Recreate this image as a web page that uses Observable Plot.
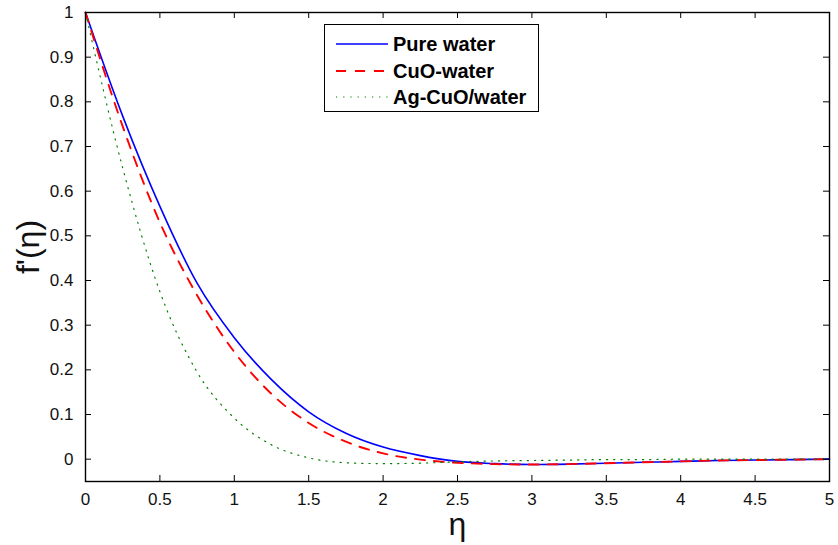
<!DOCTYPE html>
<html>
<head>
<meta charset="utf-8">
<script src="https://cdn.jsdelivr.net/npm/d3@7"></script>
<script src="https://cdn.jsdelivr.net/npm/@observablehq/plot@0.6"></script>
<style>
  html, body { margin: 0; padding: 0; background: #fff; }
  #wrap { position: relative; width: 838px; height: 545px; }
  #legend {
    position: absolute; left: 324px; top: 24px; width: 213px; height: 86px;
    background: #fff; border: 1px solid #000;
    font-family: "Liberation Sans", Arial, sans-serif; font-weight: bold; font-size: 20px; color: #000;
  }
  .row { position: absolute; left: 0; height: 26px; width: 100%; }
  .row svg { position: absolute; left: 10px; top: 0; }
  .row span { position: absolute; left: 68px; top: 1px; line-height: 24px; white-space: nowrap; }
</style>
</head>
<body>
<div id="wrap"></div>
<script>
// ---- data ----
const eta = [0, 0.25, 0.5, 0.75, 1, 1.25, 1.5, 1.75, 2, 2.25, 2.5, 2.75, 3, 3.25, 3.5, 3.75, 4, 4.25, 4.5, 4.75, 5];
const pureWater = [1, 0.768, 0.566, 0.394, 0.272, 0.178, 0.106, 0.058, 0.027, 0.008, -0.005, -0.010, -0.012, -0.011, -0.009, -0.007, -0.005, -0.003, -0.002, -0.001, 0];
const cuoWater = [1, 0.745, 0.530, 0.367, 0.240, 0.146, 0.081, 0.039, 0.013, -0.001, -0.008, -0.011, -0.012, -0.011, -0.009, -0.007, -0.005, -0.003, -0.002, -0.001, 0];
const agCuoWater = [1, 0.652, 0.375, 0.195, 0.092, 0.032, 0.003, -0.008, -0.010, -0.009, -0.006, -0.004, -0.003, -0.002, -0.001, -0.001, 0, 0, 0, 0, 0];
const seriesNames = ["Pure water", "CuO-water", "Ag-CuO/water"];
const xTicks = [0, 0.5, 1, 1.5, 2, 2.5, 3, 3.5, 4, 4.5, 5];
const yTicks = [0, 0.1, 0.2, 0.3, 0.4, 0.5, 0.6, 0.7, 0.8, 0.9, 1];
const xLabel = "η";
const yLabel = "f'(η)";

// ---- styles ----
const styles = [
  {stroke: "#0000ff", strokeWidth: 1.6, dash: null},
  {stroke: "#ff0000", strokeWidth: 1.9, dash: "10,9"},
  {stroke: "#008000", strokeWidth: 1.2, dash: "1.2,6"}
];
const seriesValues = [pureWater, cuoWater, agCuoWater];

const W = 838, H = 545, mL = 85, mR = 9, mT = 12, mB = 64;
const innerW = W - mL - mR, innerH = H - mT - mB;
const tickLen = 6;

const lineMarks = seriesValues.map((vals, i) =>
  Plot.line(eta.map((e, j) => ({x: e, y: vals[j]})), {
    x: "x", y: "y", curve: "monotone-x",
    stroke: styles[i].stroke, strokeWidth: styles[i].strokeWidth,
    strokeDasharray: styles[i].dash
  })
);

const chart = Plot.plot({
  width: W, height: H,
  marginLeft: mL, marginRight: mR, marginTop: mT, marginBottom: mB,
  x: {domain: [0, 5]},
  y: {domain: [-0.05, 1]},
  style: {fontFamily: "'Liberation Sans', Arial, sans-serif", fontSize: "17px", color: "#111", background: "#fff"},
  marks: [
    ...lineMarks,
    Plot.ruleX(xTicks, {x: d => d, insetTop: innerH - tickLen, stroke: "#000", strokeWidth: 1}),
    Plot.ruleX(xTicks, {x: d => d, insetBottom: innerH - tickLen, stroke: "#000", strokeWidth: 1}),
    Plot.ruleY(yTicks, {y: d => d, insetRight: innerW - tickLen, stroke: "#000", strokeWidth: 1}),
    Plot.ruleY(yTicks, {y: d => d, insetLeft: innerW - tickLen, stroke: "#000", strokeWidth: 1}),
    Plot.frame({stroke: "#000", strokeWidth: 1.4}),
    Plot.axisX({ticks: xTicks, tickSize: 0, tickPadding: 11, label: null, tickFormat: d => String(d), fontSize: 17}),
    Plot.axisY({ticks: yTicks, tickSize: 0, tickPadding: 12, label: null, tickFormat: d => String(d), fontSize: 17}),
    Plot.text([xLabel], {frameAnchor: "bottom", textAnchor: "middle", lineAnchor: "middle", dy: 43, text: d => d, fontSize: 32, fill: "#111"}),
    Plot.text([yLabel], {frameAnchor: "left", textAnchor: "middle", lineAnchor: "middle", dx: -57, rotate: -90, text: d => d, fontSize: 32, fill: "#111"})
  ]
});

const wrap = document.getElementById("wrap");
wrap.appendChild(chart);

// ---- legend ----
const legend = document.createElement("div");
legend.id = "legend";
const rowTops = [6, 32.5, 59];
seriesNames.forEach((name, i) => {
  const row = document.createElement("div");
  row.className = "row";
  row.style.top = rowTops[i] + "px";
  const s = styles[i];
  row.innerHTML = `<svg width="54" height="26"><line x1="1" x2="53" y1="13" y2="13" stroke="${s.stroke}" stroke-width="${s.strokeWidth}" ${s.dash ? `stroke-dasharray="${s.dash}"` : ""}/></svg><span>${name}</span>`;
  legend.appendChild(row);
});
wrap.appendChild(legend);
</script>
</body>
</html>
